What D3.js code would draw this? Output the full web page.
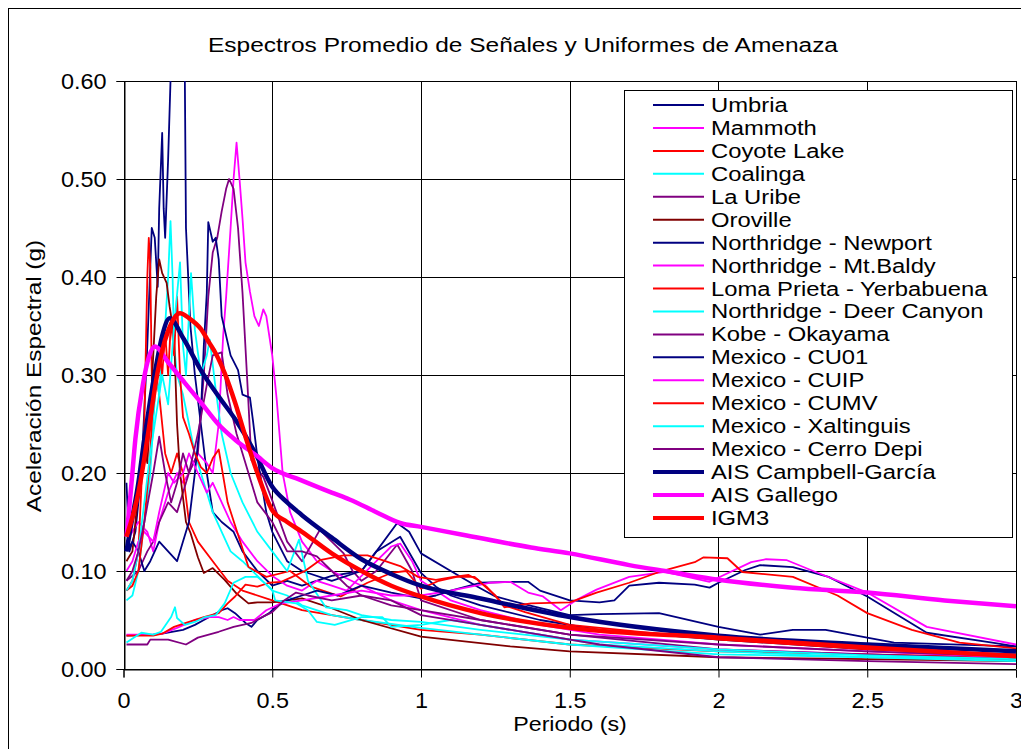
<!DOCTYPE html>
<html><head><meta charset="utf-8">
<script src="https://cdn.jsdelivr.net/npm/d3@7"></script>
<style>body{margin:0;background:#fff}svg text{font-family:"Liberation Sans",Arial,sans-serif;fill:#000}</style>
</head><body><svg id="c" width="1021" height="749"></svg>
<script>
// ---- data: [period (s), spectral acceleration (g)] ----
const umbria=[[0.01,0.19],[0.02,0.12],[0.04,0.14],[0.06,0.2],[0.08,0.33],[0.095,0.45],[0.105,0.44],[0.115,0.39],[0.12,0.47],[0.13,0.547],[0.135,0.47],[0.14,0.44],[0.15,0.52],[0.163,0.65],[0.205,0.65],[0.21,0.45],[0.225,0.35],[0.24,0.3],[0.26,0.25],[0.28,0.2],[0.3,0.16],[0.33,0.15],[0.37,0.14],[0.4,0.12],[0.45,0.1],[0.5,0.085],[0.55,0.09],[0.6,0.085],[0.7,0.095],[0.8,0.1],[0.85,0.12],[0.92,0.149],[0.96,0.14],[1.0,0.118],[1.1,0.1],[1.19,0.084],[1.25,0.074],[1.35,0.066],[1.5,0.055],[1.6,0.056],[1.8,0.057],[2.0,0.043],[2.14,0.035],[2.25,0.04],[2.36,0.04],[2.59,0.027],[3.0,0.023]];
const mammoth=[[0.01,0.13],[0.03,0.14],[0.05,0.15],[0.08,0.14],[0.1,0.12],[0.12,0.15],[0.15,0.18],[0.18,0.2],[0.2,0.19],[0.22,0.2],[0.25,0.22],[0.28,0.21],[0.3,0.2],[0.32,0.25],[0.335,0.34],[0.345,0.38],[0.36,0.45],[0.37,0.5],[0.38,0.537],[0.39,0.5],[0.4,0.46],[0.41,0.415],[0.425,0.385],[0.44,0.36],[0.455,0.35],[0.47,0.367],[0.48,0.36],[0.5,0.32],[0.515,0.275],[0.535,0.2],[0.56,0.16],[0.6,0.13],[0.65,0.11],[0.7,0.1],[0.8,0.085],[0.9,0.07],[1.0,0.06],[1.2,0.045],[1.5,0.03],[2.0,0.02],[2.5,0.015],[3.0,0.01]];
const coyoteLake=[[0.01,0.08],[0.03,0.09],[0.05,0.12],[0.07,0.25],[0.08,0.4],[0.085,0.44],[0.09,0.41],[0.095,0.3],[0.1,0.26],[0.11,0.3],[0.12,0.28],[0.14,0.22],[0.16,0.2],[0.18,0.22],[0.2,0.2],[0.22,0.15],[0.25,0.13],[0.3,0.11],[0.35,0.09],[0.4,0.08],[0.5,0.07],[0.6,0.06],[0.7,0.055],[0.8,0.05],[1.0,0.04],[1.2,0.035],[1.5,0.025],[2.0,0.018],[2.5,0.015],[3.0,0.012]];
const coalinga=[[0.01,0.07],[0.03,0.075],[0.05,0.1],[0.07,0.15],[0.09,0.2],[0.1,0.25],[0.11,0.3],[0.12,0.28],[0.13,0.33],[0.14,0.35],[0.15,0.4],[0.158,0.457],[0.165,0.4],[0.17,0.33],[0.18,0.3],[0.2,0.28],[0.22,0.25],[0.24,0.22],[0.26,0.2],[0.28,0.18],[0.3,0.16],[0.33,0.14],[0.36,0.12],[0.4,0.11],[0.45,0.095],[0.5,0.08],[0.55,0.075],[0.6,0.065],[0.7,0.055],[0.8,0.05],[1.0,0.042],[1.2,0.035],[1.5,0.025],[2.0,0.015],[2.5,0.012],[3.0,0.01]];
const laUribe=[[0.01,0.09],[0.03,0.095],[0.05,0.1],[0.08,0.12],[0.1,0.13],[0.12,0.15],[0.15,0.17],[0.18,0.16],[0.2,0.18],[0.22,0.2],[0.25,0.22],[0.27,0.3],[0.285,0.38],[0.3,0.425],[0.315,0.44],[0.33,0.467],[0.345,0.49],[0.355,0.5],[0.37,0.49],[0.385,0.45],[0.4,0.384],[0.415,0.3],[0.43,0.213],[0.47,0.196],[0.5,0.172],[0.55,0.13],[0.6,0.11],[0.66,0.142],[0.7,0.13],[0.74,0.118],[0.77,0.1],[0.8,0.09],[0.85,0.1],[0.92,0.127],[0.97,0.1],[1.0,0.07],[1.2,0.05],[1.5,0.035],[2.0,0.02],[2.5,0.015],[3.0,0.01]];
const oroville=[[0.01,0.11],[0.02,0.115],[0.03,0.12],[0.05,0.18],[0.07,0.23],[0.08,0.21],[0.09,0.26],[0.1,0.32],[0.11,0.38],[0.12,0.418],[0.13,0.404],[0.145,0.394],[0.155,0.37],[0.17,0.34],[0.18,0.25],[0.19,0.2],[0.21,0.15],[0.225,0.139],[0.25,0.114],[0.27,0.098],[0.3,0.103],[0.34,0.091],[0.38,0.077],[0.42,0.067],[0.45,0.068],[0.5,0.068],[0.6,0.072],[0.7,0.062],[0.8,0.05],[1.0,0.033],[1.3,0.023],[1.5,0.018],[2.0,0.012],[2.5,0.01],[3.0,0.008]];
const nrNewport=[[0.01,0.12],[0.03,0.13],[0.05,0.12],[0.07,0.1],[0.09,0.11],[0.12,0.13],[0.15,0.12],[0.18,0.11],[0.2,0.13],[0.22,0.15],[0.24,0.2],[0.26,0.26],[0.27,0.33],[0.28,0.384],[0.285,0.456],[0.3,0.436],[0.31,0.44],[0.32,0.418],[0.33,0.36],[0.36,0.32],[0.385,0.305],[0.4,0.28],[0.425,0.277],[0.435,0.254],[0.45,0.216],[0.48,0.16],[0.5,0.14],[0.55,0.11],[0.6,0.1],[0.7,0.09],[0.8,0.1],[0.85,0.12],[0.93,0.135],[1.0,0.098],[1.05,0.084],[1.1,0.075],[1.2,0.065],[1.4,0.05],[1.6,0.04],[2.0,0.03],[2.5,0.02],[3.0,0.015]];
const nrMtBaldy=[[0.01,0.1],[0.03,0.11],[0.05,0.13],[0.07,0.14],[0.1,0.13],[0.12,0.16],[0.15,0.2],[0.17,0.19],[0.2,0.2],[0.22,0.22],[0.25,0.2],[0.28,0.18],[0.3,0.19],[0.33,0.17],[0.36,0.15],[0.4,0.13],[0.45,0.11],[0.5,0.095],[0.55,0.085],[0.6,0.08],[0.65,0.09],[0.7,0.085],[0.75,0.08],[0.8,0.095],[0.85,0.11],[0.9,0.125],[0.93,0.128],[0.97,0.11],[1.0,0.09],[1.05,0.08],[1.1,0.07],[1.2,0.06],[1.4,0.045],[1.6,0.035],[2.0,0.025],[2.5,0.018],[3.0,0.012]];
const lomaPrieta=[[0.01,0.08],[0.03,0.085],[0.05,0.1],[0.07,0.15],[0.09,0.22],[0.1,0.28],[0.11,0.3],[0.12,0.33],[0.13,0.3],[0.14,0.343],[0.15,0.3],[0.16,0.357],[0.17,0.32],[0.18,0.38],[0.19,0.3],[0.2,0.257],[0.22,0.24],[0.24,0.22],[0.26,0.206],[0.28,0.2],[0.3,0.215],[0.32,0.224],[0.35,0.17],[0.42,0.104],[0.48,0.094],[0.56,0.1],[0.63,0.084],[0.73,0.074],[0.82,0.088],[0.9,0.098],[0.95,0.1],[1.0,0.082],[1.06,0.09],[1.12,0.094],[1.18,0.094],[1.22,0.084],[1.28,0.065],[1.35,0.058],[1.5,0.045],[2.0,0.03],[2.5,0.02],[3.0,0.015]];
const nrDeerCanyon=[[0.01,0.08],[0.03,0.09],[0.05,0.12],[0.07,0.17],[0.09,0.22],[0.11,0.26],[0.13,0.3],[0.15,0.27],[0.17,0.35],[0.19,0.415],[0.2,0.33],[0.21,0.3],[0.227,0.404],[0.24,0.346],[0.26,0.3],[0.28,0.32],[0.29,0.336],[0.31,0.285],[0.33,0.24],[0.36,0.2],[0.4,0.17],[0.45,0.14],[0.5,0.12],[0.55,0.1],[0.59,0.132],[0.62,0.09],[0.68,0.063],[0.75,0.06],[0.8,0.055],[0.9,0.05],[1.0,0.048],[1.2,0.04],[1.5,0.03],[2.0,0.02],[2.5,0.014],[3.0,0.01]];
const kobeOkayama=[[0.01,0.09],[0.03,0.1],[0.05,0.12],[0.07,0.15],[0.1,0.2],[0.12,0.237],[0.14,0.2],[0.16,0.17],[0.18,0.19],[0.2,0.22],[0.22,0.2],[0.25,0.24],[0.28,0.29],[0.3,0.32],[0.33,0.323],[0.35,0.28],[0.38,0.24],[0.42,0.2],[0.45,0.17],[0.5,0.15],[0.55,0.12],[0.6,0.12],[0.65,0.115],[0.7,0.1],[0.75,0.085],[0.8,0.075],[0.9,0.065],[1.0,0.06],[1.2,0.05],[1.5,0.035],[2.0,0.025],[2.5,0.018],[3.0,0.013]];
const mexCU01=[[0.01,0.034],[0.1,0.035],[0.13,0.036],[0.2,0.04],[0.24,0.045],[0.27,0.05],[0.33,0.06],[0.35,0.062],[0.375,0.057],[0.41,0.047],[0.43,0.043],[0.45,0.05],[0.49,0.057],[0.51,0.063],[0.55,0.07],[0.6,0.075],[0.65,0.08],[0.72,0.075],[0.8,0.085],[0.9,0.078],[1.0,0.072],[1.05,0.075],[1.1,0.08],[1.2,0.088],[1.3,0.089],[1.36,0.089],[1.4,0.08],[1.5,0.07],[1.6,0.068],[1.65,0.07],[1.7,0.085],[1.8,0.088],[1.92,0.086],[1.97,0.083],[2.0,0.088],[2.09,0.101],[2.14,0.106],[2.25,0.104],[2.37,0.094],[2.5,0.074],[2.7,0.037],[2.92,0.027],[3.0,0.023]];
const mexCUIP=[[0.01,0.035],[0.1,0.035],[0.13,0.036],[0.18,0.042],[0.24,0.05],[0.29,0.053],[0.32,0.053],[0.35,0.05],[0.37,0.053],[0.39,0.05],[0.44,0.05],[0.48,0.06],[0.53,0.067],[0.6,0.07],[0.7,0.075],[0.8,0.08],[0.9,0.075],[1.0,0.075],[1.1,0.08],[1.23,0.088],[1.3,0.089],[1.36,0.078],[1.41,0.074],[1.47,0.06],[1.52,0.07],[1.59,0.081],[1.7,0.094],[1.82,0.099],[1.97,0.089],[2.11,0.109],[2.16,0.112],[2.23,0.111],[2.31,0.101],[2.5,0.078],[2.7,0.043],[3.0,0.025]];
const mexCUMV=[[0.01,0.034],[0.05,0.034],[0.1,0.034],[0.13,0.036],[0.17,0.043],[0.21,0.047],[0.27,0.053],[0.32,0.057],[0.35,0.067],[0.375,0.074],[0.41,0.086],[0.45,0.084],[0.49,0.088],[0.53,0.089],[0.56,0.093],[0.61,0.1],[0.66,0.111],[0.74,0.116],[0.82,0.116],[0.87,0.111],[0.93,0.105],[0.99,0.094],[1.05,0.091],[1.11,0.094],[1.16,0.096],[1.19,0.091],[1.25,0.075],[1.28,0.063],[1.37,0.067],[1.5,0.068],[1.59,0.078],[1.7,0.088],[1.8,0.099],[1.92,0.109],[1.95,0.114],[2.03,0.113],[2.08,0.099],[2.25,0.094],[2.4,0.075],[2.5,0.057],[2.65,0.04],[2.81,0.027],[3.0,0.021]];
const mexXaltinguis=[[0.01,0.027],[0.06,0.037],[0.1,0.035],[0.126,0.038],[0.16,0.053],[0.173,0.063],[0.18,0.052],[0.206,0.045],[0.24,0.048],[0.274,0.053],[0.31,0.055],[0.34,0.067],[0.37,0.088],[0.41,0.094],[0.45,0.094],[0.5,0.081],[0.51,0.07],[0.58,0.067],[0.62,0.06],[0.65,0.048],[0.71,0.045],[0.8,0.053],[0.87,0.053],[0.9,0.043],[1.0,0.045],[1.1,0.05],[1.2,0.045],[1.4,0.035],[1.6,0.025],[2.0,0.018],[2.5,0.012],[3.0,0.008]];
const mexCerroDepi=[[0.01,0.025],[0.08,0.025],[0.09,0.03],[0.15,0.03],[0.21,0.025],[0.25,0.032],[0.32,0.038],[0.37,0.043],[0.43,0.047],[0.46,0.052],[0.5,0.058],[0.54,0.07],[0.58,0.078],[0.62,0.075],[0.7,0.07],[0.8,0.075],[0.9,0.07],[1.0,0.055],[1.2,0.045],[1.4,0.035],[1.6,0.025],[2.0,0.012],[2.5,0.008],[3.0,0.005]];
const aisCampbell=[[0.01,0.12],[0.03,0.155],[0.05,0.19],[0.07,0.235],[0.09,0.275],[0.11,0.31],[0.13,0.34],[0.155,0.358],[0.2,0.338],[0.26,0.305],[0.32,0.278],[0.375,0.255],[0.44,0.222],[0.5,0.186],[0.55,0.17],[0.6,0.157],[0.7,0.134],[0.8,0.112],[0.9,0.097],[1.0,0.085],[1.2,0.072],[1.5,0.053],[2.0,0.034],[2.5,0.025],[3.0,0.018]];
const aisGallego=[[0.01,0.135],[0.015,0.15],[0.027,0.19],[0.04,0.235],[0.065,0.29],[0.085,0.318],[0.105,0.329],[0.15,0.313],[0.206,0.292],[0.26,0.272],[0.318,0.25],[0.375,0.234],[0.45,0.217],[0.5,0.205],[0.594,0.193],[0.7,0.18],[0.76,0.173],[0.85,0.16],[0.93,0.149],[1.0,0.145],[1.14,0.137],[1.37,0.124],[1.5,0.118],[1.7,0.106],[1.84,0.099],[2.0,0.091],[2.25,0.083],[2.5,0.078],[2.76,0.07],[3.0,0.064]];
const igm3=[[0.01,0.135],[0.03,0.155],[0.05,0.18],[0.07,0.215],[0.09,0.255],[0.11,0.295],[0.13,0.325],[0.15,0.345],[0.17,0.358],[0.19,0.363],[0.22,0.358],[0.26,0.347],[0.29,0.332],[0.31,0.322],[0.34,0.302],[0.375,0.272],[0.41,0.237],[0.45,0.2],[0.5,0.162],[0.55,0.15],[0.6,0.14],[0.7,0.118],[0.8,0.1],[0.9,0.085],[1.0,0.074],[1.2,0.057],[1.5,0.042],[2.0,0.032],[2.5,0.022],[3.0,0.013]];

const seriesNames=["Umbria","Mammoth","Coyote Lake","Coalinga","La Uribe","Oroville","Northridge - Newport","Northridge - Mt.Baldy","Loma Prieta - Yerbabuena","Northridge - Deer Canyon","Kobe - Okayama","Mexico - CU01","Mexico - CUIP","Mexico - CUMV","Mexico - Xaltinguis","Mexico - Cerro Depi","AIS Campbell-García","AIS Gallego","IGM3"];
const seriesData=[umbria,mammoth,coyoteLake,coalinga,laUribe,oroville,nrNewport,nrMtBaldy,lomaPrieta,nrDeerCanyon,kobeOkayama,mexCU01,mexCUIP,mexCUMV,mexXaltinguis,mexCerroDepi,aisCampbell,aisGallego,igm3];
const seriesColors=["#000080","#FF00FF","#FF0000","#00FFFF","#800080","#800000","#000080","#FF00FF","#FF0000","#00FFFF","#800080","#000080","#FF00FF","#FF0000","#00FFFF","#800080","#000080","#FF00FF","#FF0000"];
const thickSeries=[false,false,false,false,false,false,false,false,false,false,false,false,false,false,false,false,true,true,true];
const xTicks=[0,0.5,1,1.5,2,2.5,3];
const yTicks=[0,0.1,0.2,0.3,0.4,0.5,0.6];
const titleText="Espectros Promedio de Señales y Uniformes de Amenaza";
const xTitle="Periodo (s)";
const yTitle="Aceleración Espectral (g)";

// ---- drawing ----
const svg=d3.select("#c");
const L=123.5,R=1016,T=81,B=669;
const x=d3.scaleLinear().domain([0,3]).range([L,R]);
const y=d3.scaleLinear().domain([0,0.6]).range([B,T]);

function stretch(sel,f){sel.each(function(){const w=this.getComputedTextLength();d3.select(this).attr("textLength",w*f).attr("lengthAdjust","spacingAndGlyphs");});}

svg.append("rect").attr("x",8.5).attr("y",8.5).attr("width",1040).attr("height",780).attr("fill","#fff").attr("stroke","#000").attr("stroke-width",1);

// grid
const g=svg.append("g");
g.selectAll(".hg").data(yTicks).join("line").attr("x1",L).attr("x2",R).attr("y1",d=>Math.round(y(d))+0.5).attr("y2",d=>Math.round(y(d))+0.5).attr("stroke","#000").attr("stroke-width",1);
g.selectAll(".vg").data(xTicks).join("line").attr("y1",T).attr("y2",B).attr("x1",d=>Math.round(x(d))+0.5).attr("x2",d=>Math.round(x(d))+0.5).attr("stroke","#000").attr("stroke-width",1);

// axes
const yAxis=d3.axisLeft(y).tickValues(yTicks).tickFormat(d3.format(".2f")).tickSize(8).tickPadding(10);
const ya=svg.append("g").attr("transform",`translate(${Math.round(L)+0.5},0)`).call(yAxis);
ya.select(".domain").attr("stroke","#000");
ya.selectAll("text").attr("font-size",21.5).attr("dy","0.36em");
const xAxis=d3.axisBottom(x).tickValues(xTicks).tickFormat(d=>String(d)).tickSize(8).tickPadding(15);
const xa=svg.append("g").attr("transform",`translate(0,${Math.round(B)+0.5})`).call(xAxis);
xa.select(".domain").attr("stroke","#000");
xa.selectAll("text").attr("font-size",21.5);
svg.selectAll(".tick text").attr("font-family","Liberation Sans, Arial, sans-serif").attr("fill","#000");
stretch(svg.selectAll(".tick text"),1.09);

// clip
svg.append("clipPath").attr("id","pc").append("rect").attr("x",L).attr("y",T).attr("width",R-L).attr("height",B-T);

const lineThin=d3.line().x(d=>x(d[0])).y(d=>y(d[1]));
const lineThick=d3.line().x(d=>x(d[0])).y(d=>y(d[1])).curve(d3.curveMonotoneX);
const lg=svg.append("g").attr("clip-path","url(#pc)");
seriesData.forEach((s,i)=>{
  lg.append("path").datum(s).attr("d",thickSeries[i]?lineThick:lineThin).attr("fill","none")
    .attr("stroke",seriesColors[i]).attr("stroke-width",thickSeries[i]?4.5:1.8).attr("stroke-linejoin","round");
});

// title
const tt=svg.append("text").attr("x",523).attr("y",52).attr("text-anchor","middle").attr("font-size",20).text(titleText);
tt.attr("textLength",630).attr("lengthAdjust","spacingAndGlyphs");
// axis titles
const xt=svg.append("text").attr("x",570).attr("y",731).attr("text-anchor","middle").attr("font-size",19.5).text(xTitle);
stretch(xt,1.19);
const yt=svg.append("text").attr("transform","translate(41,376) rotate(-90)").attr("text-anchor","middle").attr("font-size",19.5).text(yTitle);
stretch(yt,1.25);

// legend
const leg=svg.append("g");
leg.append("rect").attr("x",624.5).attr("y",90.5).attr("width",388).attr("height",447).attr("fill","#fff").attr("stroke","#000").attr("stroke-width",1);
seriesNames.forEach((n,i)=>{
  const cy=105+i*22.94;
  leg.append("line").attr("x1",653).attr("x2",704).attr("y1",cy).attr("y2",cy).attr("stroke",seriesColors[i]).attr("stroke-width",thickSeries[i]?4:2);
  const t=leg.append("text").attr("x",711).attr("y",cy+7).attr("font-size",19.5).text(n);
  stretch(t,1.22);
});
</script></body></html>
